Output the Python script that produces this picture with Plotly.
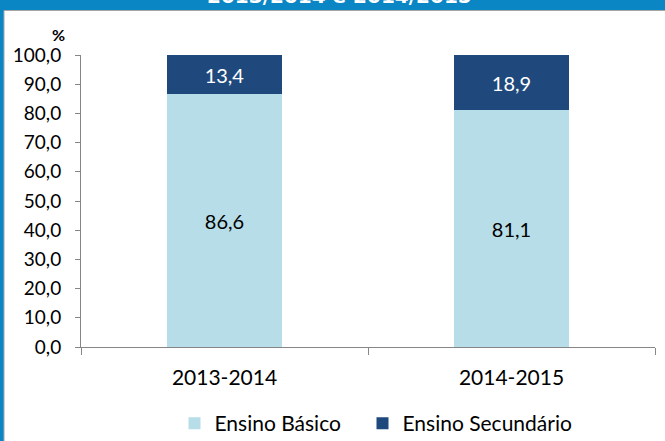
import plotly.graph_objects as go

categories = ["2013-2014", "2014-2015"]
basico = [86.6, 81.1]
secundario = [13.4, 18.9]
series_names = ["Ensino Básico", "Ensino Secundário"]
title_text = "2013/2014 e 2014/2015"
y_unit = "%"

FONT = "Lato"
LIGHT = "#B7DDE8"
DARK = "#1F497D"
AXIS = "#868686"


def fmt(v):
    return f"{v:.1f}".replace(".", ",")


fig = go.Figure()
fig.add_trace(go.Bar(
    x=categories, y=basico, name=series_names[0], legend="legend",
    marker=dict(color=LIGHT, line=dict(width=0)),
    text=[fmt(v) for v in basico], textposition="inside",
    insidetextanchor="middle", textangle=0,
    textfont=dict(family=FONT, size=20, color="black"),
))
fig.add_trace(go.Bar(
    x=categories, y=secundario, name=series_names[1], legend="legend2",
    marker=dict(color=DARK, line=dict(width=0)),
    text=[fmt(v) for v in secundario], textposition="inside",
    insidetextanchor="middle", textangle=0,
    textfont=dict(family=FONT, size=20, color="white"),
))

legend_common = dict(
    orientation="h", xanchor="left", yanchor="top",
    y=-(403 - 347) / 292,
    font=dict(family=FONT, size=21, color="black"),
    bgcolor="rgba(0,0,0,0)",
)

fig.update_layout(
    width=665, height=441,
    margin=dict(l=81, r=10, t=55, b=94, autoexpand=False),
    barmode="stack", bargap=0.596,
    separators=",.",
    paper_bgcolor="#0b86c5",
    plot_bgcolor="rgba(0,0,0,0)",
    font=dict(family=FONT, size=20, color="black"),
    showlegend=True,
    legend=dict(x=(174.5 - 81) / 574, **legend_common),
    legend2=dict(x=(362.5 - 81) / 574, **legend_common),
    shapes=[dict(
        type="rect", layer="below",
        xref="paper", xsizemode="pixel", xanchor=0, x0=-77, x1=600,
        yref="paper", ysizemode="pixel", yanchor=1, y0=-400, y1=44.5,
        fillcolor="white", line=dict(color="#a6a6a6", width=1),
    )],
    annotations=[
        dict(text=title_text, xref="paper", yref="paper", x=(339 - 81) / 574, y=1,
             xanchor="center", yanchor="bottom", yshift=45, showarrow=False,
             font=dict(family="DejaVu Sans", size=20, color="white", weight="bold")),
        dict(text="<b>" + y_unit + "</b>", xref="paper", yref="paper", x=(58 - 81) / 574, y=1,
             xanchor="center", yanchor="middle", yshift=21, showarrow=False,
             font=dict(family=FONT, size=16, color="black")),
    ],
)

fig.update_xaxes(
    showline=True, linecolor=AXIS, linewidth=1,
    ticks="outside", tickson="boundaries", ticklen=7, tickcolor=AXIS,
    tickfont=dict(family=FONT, size=21, color="black"),
    ticklabelstandoff=12, showgrid=False,
)
fig.update_yaxes(
    range=[0, 100], dtick=10, tickformat=".1f",
    showline=True, linecolor=AXIS, linewidth=1,
    ticks="outside", ticklen=5, tickcolor=AXIS,
    tickfont=dict(family=FONT, size=19, color="black"),
    ticklabelstandoff=10, showgrid=False, zeroline=False,
)

fig.write_html("out.html")
